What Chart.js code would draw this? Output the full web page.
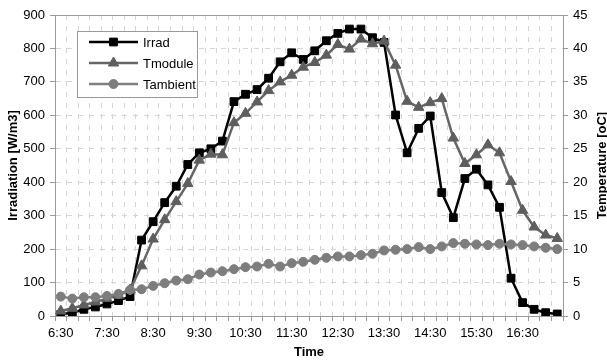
<!DOCTYPE html>
<html>
<head>
<meta charset="utf-8">
<script src="https://cdn.jsdelivr.net/npm/chart.js@4"></script>
<style>
html, body { margin: 0; padding: 0; background: #fff; }
</style>
</head>
<body>
<canvas id="solarChart" width="607" height="360"></canvas>
<script>
const ctx = document.getElementById('solarChart').getContext('2d');

const times = [
    '6:30', '6:45', '7:00', '7:15', '7:30', '7:45', '8:00', '8:15',
    '8:30', '8:45', '9:00', '9:15', '9:30', '9:45', '10:00', '10:15',
    '10:30', '10:45', '11:00', '11:15', '11:30', '11:45', '12:00', '12:15',
    '12:30', '12:45', '13:00', '13:15', '13:30', '13:45', '14:00', '14:15',
    '14:30', '14:45', '15:00', '15:15', '15:30', '15:45', '16:00', '16:15',
    '16:30', '16:45', '17:00', '17:15'
];

// W/m3 (left axis)
const irrad = [
    5, 10, 20, 27, 36, 46, 58, 227, 282, 339, 388, 453, 488, 500, 523, 641,
    663, 677, 711, 760, 787, 767, 793, 823, 845, 858, 858, 832, 818, 601, 488, 561,
    598, 369, 294, 411, 439, 392, 325, 113, 40, 20, 10, 6
];

// oC (right axis)
const tModule = [
    0.75, 1.15, 1.65, 2.1, 2.6, 3.1, 3.9, 7.5, 11.5, 14.4, 17.1, 19.8, 23.3, 24.2, 24.1, 28.9,
    30.3, 32.0, 33.7, 35.0, 36.0, 37.2, 37.9, 39.0, 40.6, 39.9, 41.4, 40.7, 41.1, 37.5, 32.1, 31.2,
    31.9, 32.5, 26.6, 22.8, 24.1, 25.6, 24.4, 20.1, 15.8, 13.3, 12.1, 11.6
];

const tAmbient = [
    2.9, 2.6, 2.8, 2.8, 3.0, 3.3, 3.9, 4.0, 4.5, 4.9, 5.3, 5.5, 6.2, 6.5, 6.7, 7.0,
    7.3, 7.4, 7.8, 7.4, 7.9, 8.1, 8.4, 8.7, 8.9, 8.9, 9.1, 9.3, 9.8, 9.9, 10.0, 10.3,
    10.0, 10.4, 10.9, 10.8, 10.7, 10.6, 10.8, 10.7, 10.6, 10.4, 10.2, 10.0
];

const yTicks = {min: 0, max: 900, step: 100};
const y1Ticks = {min: 0, max: 45, step: 5};

Chart.defaults.font.family = 'Arial, "Liberation Sans", sans-serif';
Chart.defaults.font.size = 13;
Chart.defaults.color = '#000';

const gridColor = '#d6d6d6';
const axisColor = '#9a9a9a';

// legend box inside the plot + top frame line + right axis title
const extrasPlugin = {
    id: 'extras',
    afterDraw(chart) {
        const c = chart.ctx;
        const area = chart.chartArea;
        c.save();
        c.strokeStyle = axisColor;
        c.lineWidth = 1;
        c.beginPath();
        c.moveTo(area.left, Math.round(area.top) + 0.5);
        c.lineTo(area.right, Math.round(area.top) + 0.5);
        c.stroke();

        // right title
        c.save();
        c.translate(602, (area.top + area.bottom) / 2);
        c.rotate(-Math.PI / 2);
        c.font = 'bold 13px Arial, "Liberation Sans", sans-serif';
        c.fillStyle = '#000';
        c.textAlign = 'center';
        c.textBaseline = 'middle';
        c.fillText('Temperature [oC]', 0, 0);
        c.restore();

        // legend
        const bx = 77, by = 31, bw = 120, bh = 66;
        c.fillStyle = '#fff';
        c.fillRect(bx, by, bw, bh);
        c.strokeStyle = axisColor;
        c.strokeRect(bx + 0.5, by + 0.5, bw, bh);
        chart.data.datasets.forEach((ds, i) => {
            const y = by + 11 + i * 21;
            c.strokeStyle = ds.borderColor;
            c.lineWidth = ds.borderWidth;
            c.beginPath();
            c.moveTo(bx + 12, y);
            c.lineTo(bx + 61, y);
            c.stroke();
            c.fillStyle = ds.pointBackgroundColor;
            c.strokeStyle = ds.pointBorderColor;
            c.lineWidth = ds.pointBorderWidth;
            Chart.helpers.drawPoint(c, {
                pointStyle: ds.pointStyle,
                radius: ds.pointRadius,
                borderWidth: ds.pointBorderWidth,
                rotation: 0
            }, bx + 36.5, y);
            c.fillStyle = '#000';
            c.font = '13px Arial, "Liberation Sans", sans-serif';
            c.textAlign = 'left';
            c.textBaseline = 'middle';
            c.fillText(ds.label, bx + 66, y + 1);
        });
        c.restore();
    }
};

const data = {
    labels: times,
    datasets: [
        {
        label: 'Irrad',
        data: irrad,
        yAxisID: 'y',
        order: 3,
        borderColor: '#000',
        backgroundColor: '#000',
        borderWidth: 2.5,
        pointStyle: 'rect',
        pointRadius: 5.5,
        pointBorderWidth: 1,
        pointBackgroundColor: '#000',
        pointBorderColor: '#000',
        },
        {
        label: 'Tmodule',
        data: tModule,
        yAxisID: 'y1',
        order: 2,
        borderColor: '#666',
        backgroundColor: '#5e5e5e',
        borderWidth: 2.5,
        pointStyle: 'triangle',
        pointRadius: 6,
        pointBorderWidth: 1,
        pointBackgroundColor: '#5e5e5e',
        pointBorderColor: '#5e5e5e',
        },
        {
        label: 'Tambient',
        data: tAmbient,
        yAxisID: 'y1',
        order: 1,
        borderColor: '#808080',
        backgroundColor: '#7d7d7d',
        borderWidth: 2.5,
        pointStyle: 'circle',
        pointRadius: 4.5,
        pointBorderWidth: 1,
        pointBackgroundColor: '#7d7d7d',
        pointBorderColor: '#7d7d7d',
        }
    ]
};

const config = {
    type: 'line',
    data: data,
    plugins: [extrasPlugin],
    options: {
        responsive: false,
        animation: false,
        layout: {padding: {top: 15, left: 0, right: 0, bottom: 0}},
        plugins: {
            legend: {display: false},
            tooltip: {enabled: false}
        },
        scales: {
            x: {
                offset: true,
                afterFit: (s) => { s.height = 44; },
                grid: {offset: true, color: gridColor, tickColor: axisColor, tickLength: 5, tickBorderDash: []},
                border: {display: true, color: axisColor, dash: [5, 6]},
                ticks: {
                    autoSkip: false,
                    maxRotation: 0,
                    padding: 5,
                    callback: function(value, index) { return index % 4 === 0 ? this.getLabelForValue(value) : ''; }
                },
                title: {display: true, text: 'Time', font: {weight: 'bold', size: 13}, padding: {top: 0, bottom: 0}}
            },
            y: {
                position: 'left',
                min: yTicks.min,
                max: yTicks.max,
                afterFit: (s) => { s.width = 55; },
                grid: {color: gridColor, tickColor: axisColor, tickLength: 5, tickBorderDash: []},
                border: {display: true, color: axisColor, dash: [5, 6]},
                ticks: {stepSize: yTicks.step, padding: 5},
                title: {display: true, text: 'Irradiation [W/m3]', font: {weight: 'bold', size: 13}, padding: {top: 6, bottom: 0}}
            },
            y1: {
                position: 'right',
                min: y1Ticks.min,
                max: y1Ticks.max,
                afterFit: (s) => { s.width = 44; },
                grid: {drawOnChartArea: false, tickColor: axisColor, tickLength: 5, tickBorderDash: []},
                border: {display: true, color: axisColor},
                ticks: {stepSize: y1Ticks.step, padding: 5}
            }
        }
    },
};

const myChart = new Chart(ctx, config);
</script>
</body>
</html>
